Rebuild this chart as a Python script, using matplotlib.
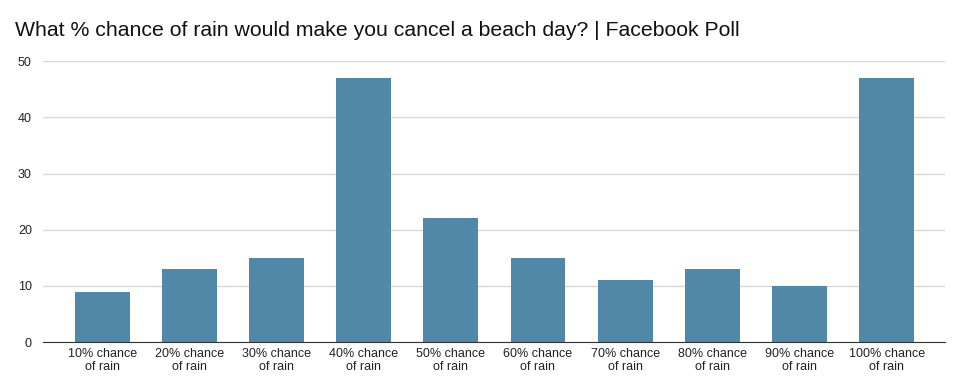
import matplotlib.pyplot as plt
import numpy as np

plt.rcParams['font.family'] = ['Liberation Sans', 'DejaVu Sans']

labels = ['10% chance\nof rain', '20% chance\nof rain', '30% chance\nof rain',
          '40% chance\nof rain', '50% chance\nof rain', '60% chance\nof rain',
          '70% chance\nof rain', '80% chance\nof rain', '90% chance\nof rain',
          '100% chance\nof rain']
votes = [9, 13, 15, 47, 22, 15, 11, 13, 10, 47]

fig = plt.figure(figsize=(9.55, 3.87), dpi=100)
ax = fig.add_axes([0.045, 0.116, 0.9445, 0.726])

x = np.arange(len(labels))
ax.bar(x, votes, width=0.63, color='#5288a7', zorder=3)

ax.set_xlim(-0.68, 9.67)
ax.set_ylim(0, 50)
ax.set_yticks([0, 10, 20, 30, 40, 50])
ax.set_xticks(x, labels)
ax.yaxis.grid(True, color='#d9d9d9', linewidth=1, zorder=0)
ax.tick_params(axis='both', length=0, labelsize=9, colors='#222222')
ax.tick_params(axis='y', pad=8)
ax.tick_params(axis='x', pad=4)
for s in ['top', 'right', 'left']:
    ax.spines[s].set_visible(False)
ax.spines['bottom'].set_color('#333333')
ax.spines['bottom'].set_zorder(4)

fig.text(0.016, 0.92, 'What % chance of rain would make you cancel a beach day? | Facebook Poll',
         fontsize=15.3, color='#111111', va='center')

fig.savefig('out.png', dpi=100)
